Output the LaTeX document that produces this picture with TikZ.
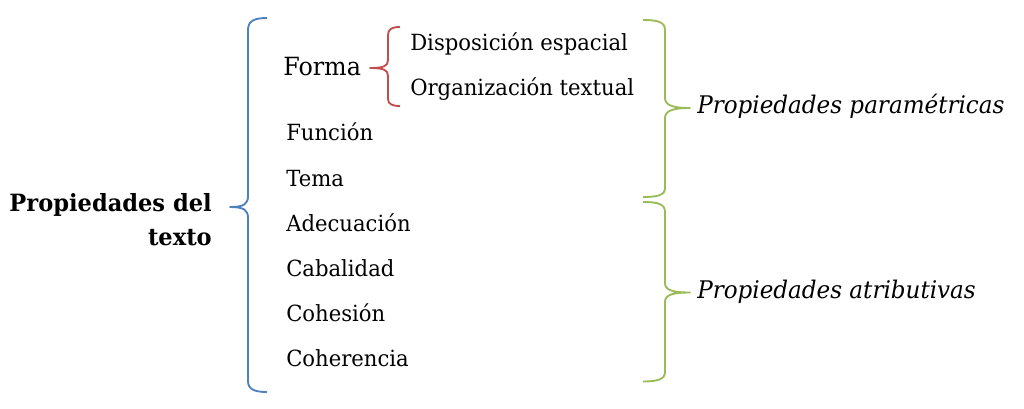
\documentclass[tikz,border=0pt]{standalone}
\usepackage{fontspec}
\setmainfont{DejaVu Serif}[FakeStretch=0.95]
\usetikzlibrary{calc, positioning}

\definecolor{llaveazul}{HTML}{4F81BD}
\definecolor{llaveroja}{HTML}{C0504D}
\definecolor{llaveverde}{HTML}{9BBB59}

\tikzset{
    propiedad/.style={anchor=base west, inner sep=0pt, font=\fontsize{16.7}{20}\selectfont},
    titulo/.style={anchor=base east, inner sep=0pt, font=\fontsize{17.8}{22}\selectfont\bfseries},
    grupo/.style={anchor=base west, inner sep=0pt, font=\fontsize{18.2}{22}\selectfont\itshape},
    llave/.style={line width=1.4pt, line join=round}
}

\begin{document}
\begin{tikzpicture}[x=0.75pt, y=-0.75pt]
    \useasboundingbox (0, 0) rectangle (1024, 408);

    \node[titulo] (tit1) at (212, 211) {Propiedades del};
    \node[titulo] (tit2) at ($(tit1.base east) + (0, 34)$) {texto};

    \node[propiedad, font=\fontsize{18.8}{22}\selectfont] (forma) at (283, 75.5) {Forma};
    \node[propiedad] (disp) at (410, 50.7) {Disposición espacial};
    \node[propiedad] (orga) at (410, 95.5) {Organización textual};

    \node[propiedad] (funcion) at (286, 140.7) {Función};
    \node[propiedad] (tema) at (286, 186) {Tema};
    \node[propiedad] (adec) at (286, 231.2) {Adecuación};
    \node[propiedad] (cabal) at (286, 276.4) {Cabalidad};
    \node[propiedad] (cohes) at (286, 321.6) {Cohesión};
    \node[propiedad] (coher) at (286, 366.8) {Coherencia};

    \node[grupo] (param) at (697, 113) {Propiedades paramétricas};
    \node[grupo] (atrib) at (697, 298) {Propiedades atributivas};

    % llave azul
    \draw[llave, llaveazul] (267, 18) .. controls (254, 18) and (248, 21) .. (248, 30) -- (248, 196)
        .. controls (248, 204) and (244, 207) .. (230, 207)
        .. controls (244, 207) and (248, 210) .. (248, 218) -- (248, 381)
        .. controls (248, 389) and (254, 392) .. (267, 392);

    % llave roja
    \draw[llave, llaveroja] (400, 27) .. controls (392, 27) and (388, 29) .. (388, 35) -- (388, 60)
        .. controls (388, 66) and (384, 68) .. (370, 68)
        .. controls (384, 68) and (388, 70) .. (388, 76) -- (388, 99)
        .. controls (388, 104) and (392, 106) .. (400, 106);

    % llaves verdes
    \draw[llave, llaveverde] (643, 20) .. controls (658, 20) and (665, 22) .. (665, 30) -- (665, 98)
        .. controls (665, 105) and (672, 108) .. (690, 108)
        .. controls (672, 108) and (665, 111) .. (665, 118) -- (665, 188)
        .. controls (665, 195) and (658, 197) .. (643, 197);
    \draw[llave, llaveverde] (643, 202) .. controls (658, 202) and (665, 204) .. (665, 212) -- (665, 283)
        .. controls (665, 290) and (672, 292.5) .. (690, 292.5)
        .. controls (672, 292.5) and (665, 295) .. (665, 302) -- (665, 372)
        .. controls (665, 379) and (658, 381.5) .. (643, 381.5);
\end{tikzpicture}
\end{document}
